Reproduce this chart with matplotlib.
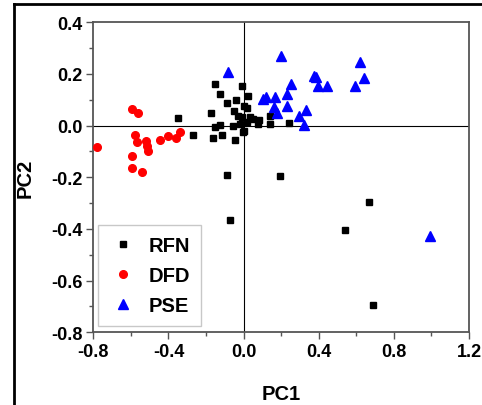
import matplotlib
matplotlib.use("Agg")
import matplotlib.pyplot as plt
from matplotlib.lines import Line2D
from matplotlib.ticker import MultipleLocator

plt.rcParams['font.family'] = ['Liberation Sans', 'DejaVu Sans']

rfn_x = [-0.349, -0.268, -0.154, -0.126, -0.090, -0.042, -0.009, 0.022, 0.004, 0.020,
         -0.175, -0.049, -0.028, -0.011, 0.034, -0.152, -0.126, -0.055, -0.020, 0.004,
         -0.002, -0.161, -0.117, -0.046, 0.016, 0.051, 0.078, 0.082, 0.141, 0.141,
         0.243, -0.087, 0.196, -0.072, 0.668, 0.540, 0.691]
rfn_y = [0.030, -0.036, 0.163, 0.123, 0.087, 0.098, 0.155, 0.116, 0.075, 0.070,
         0.048, 0.056, 0.039, 0.032, 0.032, -0.006, 0.003, -0.002, 0.006, -0.019,
         -0.026, -0.049, -0.036, -0.054, 0.013, 0.024, 0.007, 0.022, 0.007, 0.039,
         0.010, -0.190, -0.196, -0.364, -0.294, -0.404, -0.694]

dfd_x = [-0.779, -0.596, -0.564, -0.578, -0.566, -0.521, -0.516, -0.511, -0.596, -0.594,
         -0.539, -0.445, -0.401, -0.358, -0.339]
dfd_y = [-0.081, 0.063, 0.048, -0.035, -0.062, -0.058, -0.077, -0.097, -0.119, -0.165,
         -0.181, -0.054, -0.039, -0.049, -0.026]

pse_x = [-0.081, 0.199, 0.102, 0.119, 0.167, 0.164, 0.176, 0.229, 0.251, 0.233,
         0.295, 0.334, 0.320, 0.376, 0.385, 0.396, 0.444, 0.618, 0.639, 0.593, 0.992]
pse_y = [0.209, 0.271, 0.103, 0.110, 0.110, 0.071, 0.048, 0.123, 0.161, 0.075,
         0.036, 0.062, 0.003, 0.194, 0.190, 0.155, 0.152, 0.248, 0.183, 0.155, -0.426]

x_ticks = [-0.8, -0.4, 0.0, 0.4, 0.8, 1.2]
y_ticks = [0.4, 0.2, 0.0, -0.2, -0.4, -0.6, -0.8]

fig = plt.figure(figsize=(4.82, 4.06), dpi=100)
ax = fig.add_axes([0.1936, 0.179, 0.7794, 0.7636])

ax.axhline(0, color='black', lw=0.8, zorder=1)
ax.axvline(0, color='black', lw=0.8, zorder=1)

ax.plot(rfn_x, rfn_y, 's', color='black', ms=5, ls='none', label='RFN', zorder=3)
ax.plot(dfd_x, dfd_y, 'o', color='red', ms=5.5, ls='none', label='DFD', zorder=3)
ax.plot(pse_x, pse_y, '^', color='blue', ms=6.5, ls='none', label='PSE', zorder=3)

ax.set_xlim(-0.8, 1.2)
ax.set_ylim(-0.8, 0.4)
ax.set_xticks(x_ticks)
ax.set_yticks(y_ticks)
ax.set_xticklabels([f"{v:.1f}" for v in x_ticks])
ax.set_yticklabels([f"{v:.1f}" for v in y_ticks])
ax.xaxis.set_minor_locator(MultipleLocator(0.2))
ax.yaxis.set_minor_locator(MultipleLocator(0.1))
ax.tick_params(which='major', direction='out', length=5, width=1, color='#555555',
               labelsize=13, pad=3, top=False, right=False)
ax.tick_params(which='minor', direction='out', length=3, width=1, color='#555555',
               top=False, right=False)
for lab in ax.get_xticklabels() + ax.get_yticklabels():
    lab.set_fontweight('bold')
for sp in ax.spines.values():
    sp.set_color('#555555')
    sp.set_linewidth(1.3)

ax.set_xlabel('PC1', fontsize=14.5, fontweight='bold', labelpad=17)
ax.set_ylabel('PC2', fontsize=14.5, fontweight='bold', labelpad=12)

leg = ax.legend(loc='lower left', bbox_to_anchor=(0.0125, 0.02), borderaxespad=0,
                frameon=True, fancybox=False, edgecolor='#bbbbbb',
                prop={'size': 14.5, 'weight': 'bold'},
                handletextpad=0.55, labelspacing=0.55, borderpad=0.55, handlelength=1.4)
leg.get_frame().set_linewidth(1.0)

fig.add_artist(Line2D([14/482, 14/482], [0, 1 - 5/406], color='black', lw=2.0,
                      transform=fig.transFigure))
fig.add_artist(Line2D([14/482, 1], [1 - 5/406, 1 - 5/406], color='black', lw=2.0,
                      transform=fig.transFigure))

fig.savefig('out.png', dpi=100)
